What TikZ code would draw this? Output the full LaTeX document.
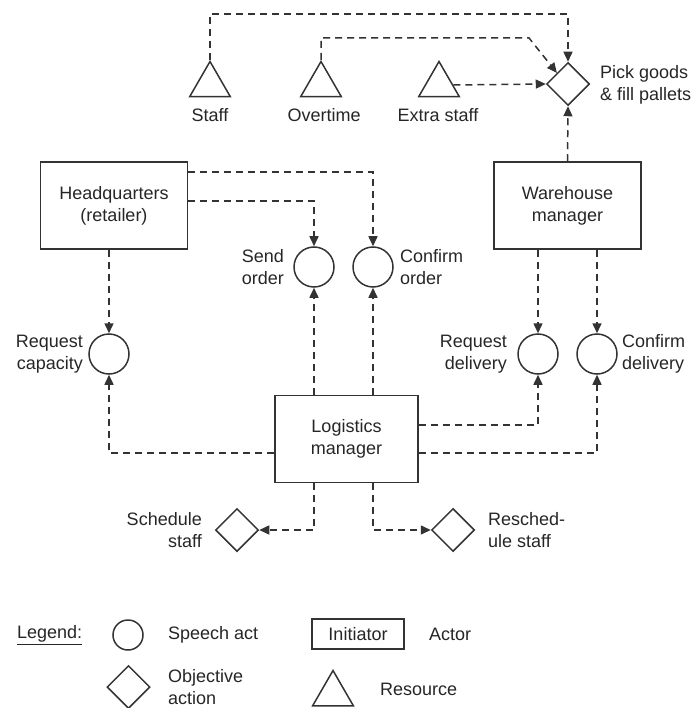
\documentclass[tikz,border=0pt]{standalone}
\usepackage{fontspec}
\setmainfont{Liberation Sans}
\usetikzlibrary{shapes.geometric,arrows.meta}

\tikzset{
  every node/.style={font=\fontsize{18}{22}\selectfont, text=black!85},
  actor/.style={draw=black!80, line width=1.5pt, rectangle, minimum width=147pt, minimum height=87pt, align=center},
  speech/.style={draw=black!80, line width=1.5pt, circle, minimum size=40pt, inner sep=0pt},
  objective/.style={draw=black!80, line width=1.5pt, diamond, minimum size=43pt, inner sep=0pt},
  resource/.style={draw=black!80, line width=1.5pt, regular polygon, regular polygon sides=3, minimum size=47pt, inner sep=0pt},
  lbl/.style={inner sep=0pt},
  flow/.style={draw=black!80, line width=1.5pt, dash pattern=on 7pt off 5pt, -{Triangle[length=10pt,width=9pt]}}
}

\begin{document}
\begin{tikzpicture}[x=1pt,y=-1pt]
  \useasboundingbox (0,0) rectangle (692,708);

  % resources
  \node[resource] (staff) at (210,85) {};
  \node[resource] (over)  at (321,85) {};
  \node[resource] (extra) at (439,85) {};
  \node[lbl,anchor=base] (stafflbl) at (210,122) {Staff};
  \node[lbl,anchor=base] (overlbl)  at (324,122) {Overtime};
  \node[lbl,anchor=base] (extralbl) at (438,122) {Extra staff};

  % objective actions
  \node[objective] (pick)    at (568,84)  {};
  \node[objective] (sched)   at (237,530) {};
  \node[objective] (resched) at (453,530) {};
  \node[lbl,anchor=west,align=left]  (picklbl)    at (600,85)  {Pick goods\\\& fill pallets};
  \node[lbl,anchor=east,align=right] (schedlbl)   at (202,530) {Schedule\\staff};
  \node[lbl,anchor=west,align=left]  (reschedlbl) at (488,530) {Resched-\\ule staff};

  % actors
  \node[actor] (hq)   at (114,205.5) {Headquarters\\(retailer)};
  \node[actor] (wh)   at (567.5,205.5) {Warehouse\\manager};
  \node[actor, minimum width=143pt] (logi) at (346.5,439) {Logistics\\manager};

  % speech acts
  \node[speech] (send) at (314,267) {};
  \node[speech] (conf) at (373,267) {};
  \node[speech] (cap)  at (109,354) {};
  \node[speech] (reqd) at (538,354) {};
  \node[speech] (cond) at (597,354) {};
  \node[lbl,anchor=east,align=right] (sendlbl) at (284,267) {Send\\order};
  \node[lbl,anchor=west,align=left]  (conflbl) at (400,267) {Confirm\\order};
  \node[lbl,anchor=east,align=right] (caplbl)  at (83,354)  {Request\\capacity};
  \node[lbl,anchor=east,align=right] (reqdlbl) at (507,354) {Request\\delivery};
  \node[lbl,anchor=west,align=left]  (condlbl) at (622,354) {Confirm\\delivery};

  % connectors
  \coordinate (stafftop) at (210,14);
  \coordinate (overbend) at (529,38);
  \draw[flow] (staff.north) -- (stafftop) -| (pick.north);
  \draw[flow] (over.north) |- (overbend) -- (pick.north west);
  \draw[flow] (extra.east) -- (pick.west);
  \draw[flow] (wh.north) -- (pick.south);

  \draw[flow] ([yshift=-11pt]hq.north east) -| (conf.north);
  \draw[flow] ([yshift=-40pt]hq.north east) -| (send.north);
  \draw[flow] (hq.south -| cap) -- (cap.north);

  \draw[flow] (logi.north -| send) -- (send.south);
  \draw[flow] (logi.north -| conf) -- (conf.south);
  \draw[flow] (wh.south -| reqd) -- (reqd.north);
  \draw[flow] (wh.south -| cond) -- (cond.north);
  \draw[flow] ([yshift=14pt]logi.east) -| (reqd.south);
  \draw[flow] ([yshift=-14pt]logi.east) -| (cond.south);
  \draw[flow] ([yshift=-14pt]logi.west) -| (cap.south);
  \draw[flow] (logi.south -| send) |- (sched.east);
  \draw[flow] (logi.south -| conf) |- (resched.west);

  % legend
  \node[lbl,anchor=west] (legend) at (17,635) {\underline{Legend:}};
  \node[speech, minimum size=30pt] (lgspeech) at (128,635) {};
  \node[lbl,anchor=west] (lgspeechlbl) at (168,635) {Speech act};
  \node[actor, minimum width=92pt, minimum height=30pt] (lgactor) at (358,634) {Initiator};
  \node[lbl,anchor=west] (lgactorlbl) at (429,634) {Actor};
  \node[objective] (lgobj) at (128.5,687) {};
  \node[lbl,anchor=west,align=left] (lgobjlbl) at (168,687) {Objective\\action};
  \node[resource] (lgres) at (333,694) {};
  \node[lbl,anchor=west] (lgreslbl) at (380,689) {Resource};
\end{tikzpicture}
\end{document}
